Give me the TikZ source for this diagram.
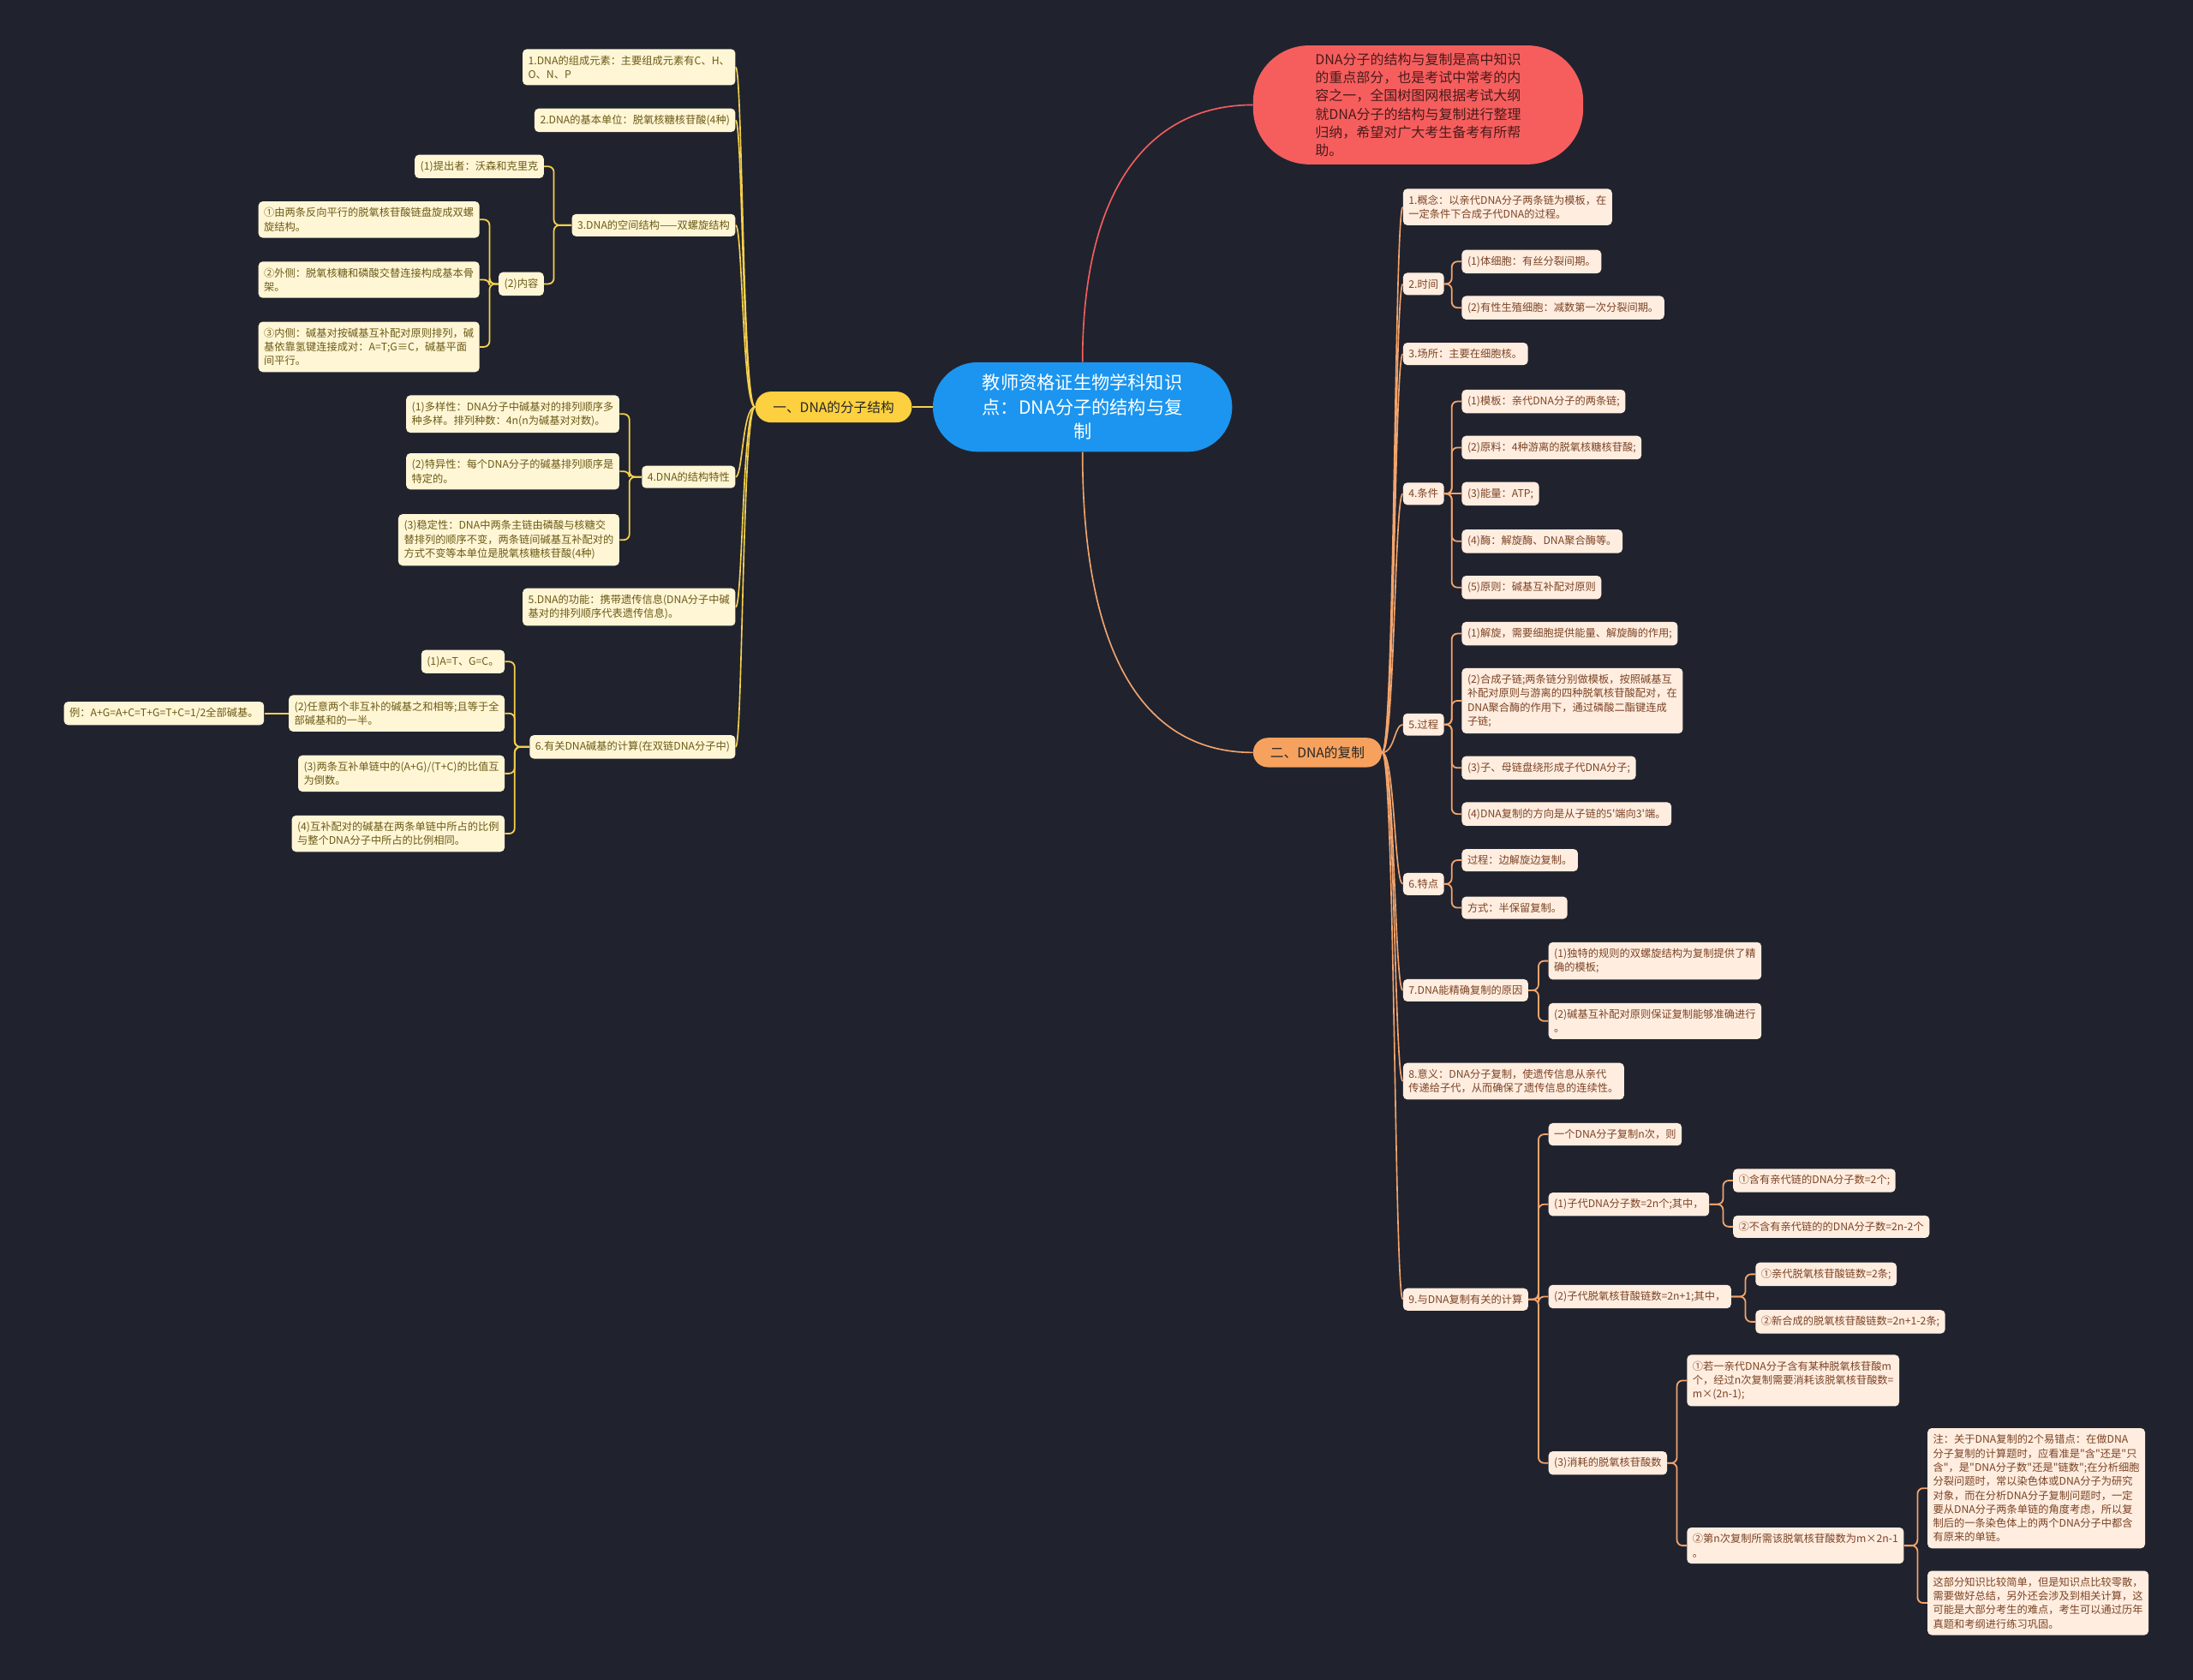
\documentclass[tikz,border=0pt]{standalone}
\usepackage{fontspec}
\setmainfont{Noto Sans CJK SC}[Ligatures=TeXOff]
\usetikzlibrary{calc}
\definecolor{bg}{HTML}{20232E}
\definecolor{lfill}{HTML}{FFF6D5}
\definecolor{ltext}{HTML}{6B5A17}
\definecolor{lline}{HTML}{F6D04D}
\definecolor{rfill}{HTML}{FFEDE0}
\definecolor{rtext}{HTML}{7B4425}
\definecolor{rline}{HTML}{F4A46C}
\definecolor{ybranch}{HTML}{FCD03F}
\definecolor{obranch}{HTML}{F6A25E}
\definecolor{redc}{HTML}{F65E5E}
\definecolor{redtext}{HTML}{4A1A1A}
\definecolor{rootc}{HTML}{1B95EF}
\newcommand\lelbow[2]{\draw[lconn] (#1.west) -| ($(#2.east)+(7,0)$) -- (#2.east);}
\newcommand\relbow[2]{\draw[rconn] (#1.east) -| ($(#2.west)+(-7,0)$) -- (#2.west);}
\newcommand\lcurveto[2]{\draw[lcurve] (#1.west) .. controls +(-9,0) and +(5,0) .. (#2.east);}
\newcommand\rcurveto[2]{\draw[rcurve] (#1.east) .. controls +(9,0) and +(-6,0) .. (#2.west);}
\begin{document}
\begin{tikzpicture}[x=1pt,y=-1pt,
  lbox/.style={fill=lfill,text=ltext,rounded corners=3pt,font=\fontsize{7.5}{10}\selectfont,inner xsep=4pt,inner ysep=4.5pt,align=left},
  rbox/.style={lbox,fill=rfill,text=rtext},
  lconn/.style={draw=lline,line width=1.1pt,rounded corners=4pt},
  rconn/.style={draw=rline,line width=1.1pt,rounded corners=4pt},
  lcurve/.style={draw=lline,line width=1pt},
  rcurve/.style={draw=rline,line width=1pt},
]
\fill[bg] (0,0) rectangle (1568,1201);
\useasboundingbox (0,0) rectangle (1568,1201);

% main nodes
\node[fill=rootc,text=white,rounded corners=32pt,minimum width=214pt,minimum height=64pt,align=center,font=\fontsize{13}{17.5}\selectfont,inner sep=2pt] (root) at (774,291) {教师资格证生物学科知识\\点：DNA分子的结构与复\\制};
\node[fill=redc,text=redtext,rounded corners=40pt,minimum width=236pt,minimum height=85pt,align=left,font=\fontsize{9.8}{13}\selectfont,inner sep=2pt] (intro) at (1014,75) {DNA分子的结构与复制是高中知识\\的重点部分，也是考试中常考的内\\容之一，全国树图网根据考试大纲\\就DNA分子的结构与复制进行整理\\归纳，希望对广大考生备考有所帮\\助。};
\node[fill=ybranch,text=black!85,rounded corners=11pt,minimum width=112pt,minimum height=22pt,font=\fontsize{9.6}{12}\selectfont,inner sep=1pt] (Y) at (596,291) {一、DNA的分子结构};
\node[fill=obranch,text=black!85,rounded corners=10.5pt,minimum width=92pt,minimum height=21pt,font=\fontsize{9.6}{12}\selectfont,inner sep=1pt] (O) at (942,538) {二、DNA的复制};

% left subtree
\node[lbox,anchor=east] (L1) at (526,48) {1.DNA的组成元素：主要组成元素有C、H、\\O、N、P};
\node[lbox,anchor=east] (L2) at (526,86) {2.DNA的基本单位：脱氧核糖核苷酸(4种)};
\node[lbox,anchor=east] (L3) at (526,161) {3.DNA的空间结构——双螺旋结构};
\node[lbox,anchor=east] (L3a) at (389,119) {(1)提出者：沃森和克里克};
\node[lbox,anchor=east] (L3b) at (389,203) {(2)内容};
\node[lbox,anchor=east] (L3b1) at (343,157) {①由两条反向平行的脱氧核苷酸链盘旋成双螺\\旋结构。};
\node[lbox,anchor=east] (L3b2) at (343,200) {②外侧：脱氧核糖和磷酸交替连接构成基本骨\\架。};
\node[lbox,anchor=east] (L3b3) at (343,248) {③内侧：碱基对按碱基互补配对原则排列，碱\\基依靠氢键连接成对：A=T;G≡C，碱基平面\\间平行。};
\node[lbox,anchor=east] (L4) at (526,341) {4.DNA的结构特性};
\node[lbox,anchor=east] (L4a) at (443,296) {(1)多样性：DNA分子中碱基对的排列顺序多\\种多样。排列种数：4n(n为碱基对对数)。};
\node[lbox,anchor=east] (L4b) at (443,337) {(2)特异性：每个DNA分子的碱基排列顺序是\\特定的。};
\node[lbox,anchor=east] (L4c) at (443,386) {(3)稳定性：DNA中两条主链由磷酸与核糖交\\替排列的顺序不变，两条链间碱基互补配对的\\方式不变等本单位是脱氧核糖核苷酸(4种)};
\node[lbox,anchor=east] (L5) at (526,434) {5.DNA的功能：携带遗传信息(DNA分子中碱\\基对的排列顺序代表遗传信息)。};
\node[lbox,anchor=east] (L6) at (526,534) {6.有关DNA碱基的计算(在双链DNA分子中)};
\node[lbox,anchor=east] (L6a) at (361,473) {(1)A=T、G=C。};
\node[lbox,anchor=east] (L6b) at (361,510) {(2)任意两个非互补的碱基之和相等;且等于全\\部碱基和的一半。};
\node[lbox,anchor=east] (L6c) at (361,553) {(3)两条互补单链中的(A+G)/(T+C)的比值互\\为倒数。};
\node[lbox,anchor=east] (L6d) at (361,596) {(4)互补配对的碱基在两条单链中所占的比例\\与整个DNA分子中所占的比例相同。};
\node[lbox,anchor=east] (L6e) at (189,510) {例：A+G=A+C=T+G=T+C=1/2全部碱基。};

% right subtree
\node[rbox,anchor=west] (R1) at (1003,148) {1.概念：以亲代DNA分子两条链为模板，在\\一定条件下合成子代DNA的过程。};
\node[rbox,anchor=west] (R2) at (1003,203) {2.时间};
\node[rbox,anchor=west] (R2a) at (1045,187) {(1)体细胞：有丝分裂间期。};
\node[rbox,anchor=west] (R2b) at (1045,220) {(2)有性生殖细胞：减数第一次分裂间期。};
\node[rbox,anchor=west] (R3) at (1003,253) {3.场所：主要在细胞核。};
\node[rbox,anchor=west] (R4) at (1003,353) {4.条件};
\node[rbox,anchor=west] (R4a) at (1045,287) {(1)模板：亲代DNA分子的两条链;};
\node[rbox,anchor=west] (R4b) at (1045,320) {(2)原料：4种游离的脱氧核糖核苷酸;};
\node[rbox,anchor=west] (R4c) at (1045,353) {(3)能量：ATP;};
\node[rbox,anchor=west] (R4d) at (1045,387) {(4)酶：解旋酶、DNA聚合酶等。};
\node[rbox,anchor=west] (R4e) at (1045,420) {(5)原则：碱基互补配对原则};
\node[rbox,anchor=west] (R5) at (1003,518) {5.过程};
\node[rbox,anchor=west] (R5a) at (1045,453) {(1)解旋，需要细胞提供能量、解旋酶的作用;};
\node[rbox,anchor=west] (R5b) at (1045,501) {(2)合成子链;两条链分别做模板，按照碱基互\\补配对原则与游离的四种脱氧核苷酸配对，在\\DNA聚合酶的作用下，通过磷酸二酯键连成\\子链;};
\node[rbox,anchor=west] (R5c) at (1045,549) {(3)子、母链盘绕形成子代DNA分子;};
\node[rbox,anchor=west] (R5d) at (1045,582) {(4)DNA复制的方向是从子链的5'端向3'端。};
\node[rbox,anchor=west] (R6) at (1003,632) {6.特点};
\node[rbox,anchor=west] (R6a) at (1045,615) {过程：边解旋边复制。};
\node[rbox,anchor=west] (R6b) at (1045,649) {方式：半保留复制。};
\node[rbox,anchor=west] (R7) at (1003,708) {7.DNA能精确复制的原因};
\node[rbox,anchor=west] (R7a) at (1107,687) {(1)独特的规则的双螺旋结构为复制提供了精\\确的模板;};
\node[rbox,anchor=west] (R7b) at (1107,730) {(2)碱基互补配对原则保证复制能够准确进行\\。};
\node[rbox,anchor=west] (R8) at (1003,773) {8.意义：DNA分子复制，使遗传信息从亲代\\传递给子代，从而确保了遗传信息的连续性。};
\node[rbox,anchor=west] (R9) at (1003,929) {9.与DNA复制有关的计算};
\node[rbox,anchor=west] (R9a) at (1107,811) {一个DNA分子复制n次，则};
\node[rbox,anchor=west] (R9b) at (1107,861) {(1)子代DNA分子数=2n个;其中，};
\node[rbox,anchor=west] (R9b1) at (1239,844) {①含有亲代链的DNA分子数=2个;};
\node[rbox,anchor=west] (R9b2) at (1239,877) {②不含有亲代链的的DNA分子数=2n-2个};
\node[rbox,anchor=west] (R9c) at (1107,927) {(2)子代脱氧核苷酸链数=2n+1;其中，};
\node[rbox,anchor=west] (R9c1) at (1255,911) {①亲代脱氧核苷酸链数=2条;};
\node[rbox,anchor=west] (R9c2) at (1255,945) {②新合成的脱氧核苷酸链数=2n+1-2条;};
\node[rbox,anchor=west] (R9d) at (1107,1046) {(3)消耗的脱氧核苷酸数};
\node[rbox,anchor=west] (R9d1) at (1206,987) {①若一亲代DNA分子含有某种脱氧核苷酸m\\个，经过n次复制需要消耗该脱氧核苷酸数=\\m×(2n-1);};
\node[rbox,anchor=west] (R9d2) at (1206,1105) {②第n次复制所需该脱氧核苷酸数为m×2n-1\\。};
\node[rbox,anchor=west] (R9e1) at (1378,1064) {注：关于DNA复制的2个易错点：在做DNA\\分子复制的计算题时，应看准是"含"还是"只\\含"，是"DNA分子数"还是"链数";在分析细胞\\分裂问题时，常以染色体或DNA分子为研究\\对象，而在分析DNA分子复制问题时，一定\\要从DNA分子两条单链的角度考虑，所以复\\制后的一条染色体上的两个DNA分子中都含\\有原来的单链。};
\node[rbox,anchor=west] (R9e2) at (1378,1146) {这部分知识比较简单，但是知识点比较零散，\\需要做好总结，另外还会涉及到相关计算，这\\可能是大部分考生的难点，考生可以通过历年\\真题和考纲进行练习巩固。};

% root connectors
\draw[lcurve] (root.west) -- (Y.east);
\draw[draw=redc,line width=1pt] (root.north) .. controls +(0,-130) and +(-70,0) .. (intro.west);
\draw[rcurve] (root.south) .. controls +(0,150) and +(-75,0) .. (O.west);

% level-1 curves
\lcurveto{Y}{L1}
\lcurveto{Y}{L2}
\lcurveto{Y}{L3}
\lcurveto{Y}{L4}
\lcurveto{Y}{L5}
\lcurveto{Y}{L6}
\rcurveto{O}{R1}
\rcurveto{O}{R2}
\rcurveto{O}{R3}
\rcurveto{O}{R4}
\rcurveto{O}{R5}
\rcurveto{O}{R6}
\rcurveto{O}{R7}
\rcurveto{O}{R8}
\rcurveto{O}{R9}

% left elbows
\lelbow{L3}{L3a}
\lelbow{L3}{L3b}
\lelbow{L3b}{L3b1}
\lelbow{L3b}{L3b2}
\lelbow{L3b}{L3b3}
\lelbow{L4}{L4a}
\lelbow{L4}{L4b}
\lelbow{L4}{L4c}
\lelbow{L6}{L6a}
\lelbow{L6}{L6b}
\lelbow{L6}{L6c}
\lelbow{L6}{L6d}
\draw[lconn] (L6b.west) -- (L6e.east);

% right elbows
\relbow{R2}{R2a}
\relbow{R2}{R2b}
\relbow{R4}{R4a}
\relbow{R4}{R4b}
\draw[rconn] (R4.east) -- (R4c.west);
\relbow{R4}{R4d}
\relbow{R4}{R4e}
\relbow{R5}{R5a}
\relbow{R5}{R5b}
\relbow{R5}{R5c}
\relbow{R5}{R5d}
\relbow{R6}{R6a}
\relbow{R6}{R6b}
\relbow{R7}{R7a}
\relbow{R7}{R7b}
\relbow{R9}{R9a}
\relbow{R9}{R9b}
\relbow{R9}{R9c}
\relbow{R9}{R9d}
\relbow{R9b}{R9b1}
\relbow{R9b}{R9b2}
\relbow{R9c}{R9c1}
\relbow{R9c}{R9c2}
\relbow{R9d}{R9d1}
\relbow{R9d}{R9d2}
\relbow{R9d2}{R9e1}
\relbow{R9d2}{R9e2}
\end{tikzpicture}
\end{document}
